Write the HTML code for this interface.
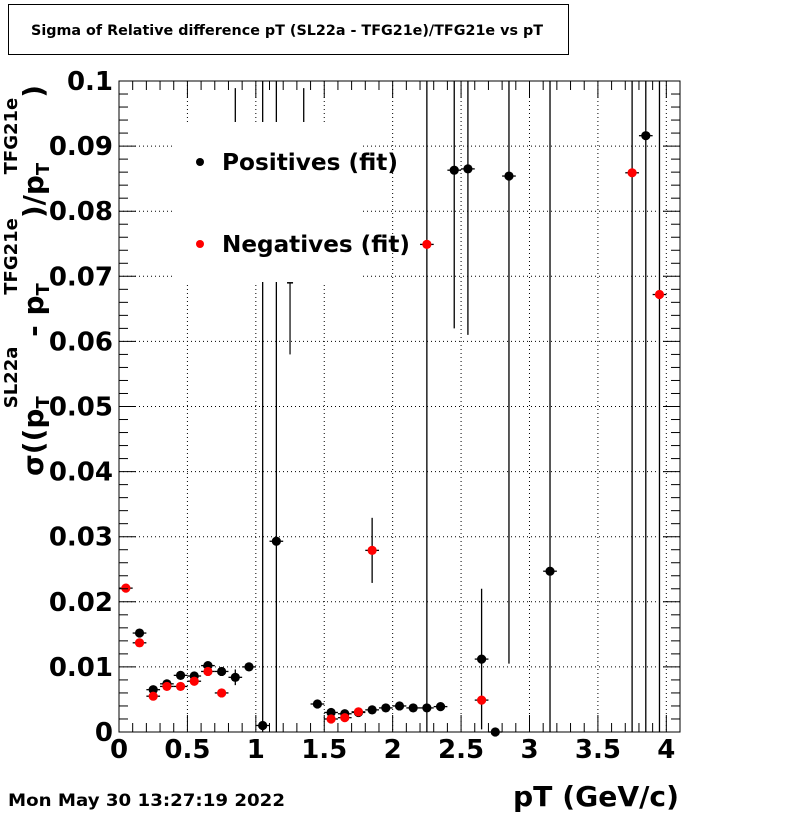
<!DOCTYPE html>
<html><head><meta charset="utf-8"><style>
html,body{margin:0;padding:0;background:#fff;}
svg{display:block;font-family:"DejaVu Sans","Liberation Sans",sans-serif;font-weight:bold;}
</style></head><body>
<svg id="c" width="800" height="814" xmlns="http://www.w3.org/2000/svg">
<rect x="0" y="0" width="800" height="814" fill="#fff"/>
<g>
<rect x="8.5" y="4.5" width="560" height="50" fill="#fff" stroke="#000"/>
<text x="287" y="35" font-size="14" text-anchor="middle" textLength="512" lengthAdjust="spacingAndGlyphs">Sigma of Relative difference pT (SL22a - TFG21e)/TFG21e vs pT</text>
</g>
<rect x="119" y="81" width="561" height="651" fill="#fff"/>
<g id="grid"></g>
<g id="marks"></g>
<g>
<rect x="172" y="122" width="188" height="160" fill="#fff"/>
<circle cx="200" cy="162" r="4" fill="#000"/>
<text x="222" y="170" font-size="23" textLength="176" lengthAdjust="spacingAndGlyphs">Positives (fit)</text>
<circle cx="200" cy="244" r="4" fill="#f00"/>
<text x="222" y="252" font-size="23" textLength="188" lengthAdjust="spacingAndGlyphs">Negatives (fit)</text>
</g>
<g id="axes"></g>
<text x="679" y="806" font-size="28" text-anchor="end" textLength="166" lengthAdjust="spacingAndGlyphs">pT (GeV/c)</text>
<text x="8" y="806" font-size="17" textLength="277" lengthAdjust="spacingAndGlyphs">Mon May 30 13:27:19 2022</text>
<text transform="translate(43,476) rotate(-90)" font-size="28">σ((p<tspan font-size="18" dy="6">T</tspan><tspan font-size="18" dx="-12" dy="-32">SL22a</tspan><tspan dy="26"> - p</tspan><tspan font-size="18" dy="6">T</tspan><tspan font-size="18" dx="-12" dy="-32">TFG21e</tspan><tspan dy="26">)/p</tspan><tspan font-size="18" dy="6">T</tspan><tspan font-size="18" dx="-12" dy="-32">TFG21e</tspan><tspan dy="26">)</tspan></text>
</svg>
<script>
const posX=[0.15,0.25,0.35,0.45,0.55,0.65,0.75,0.85,0.95,1.05,1.15,1.35,1.45,1.55,1.65,1.75,1.85,1.95,2.05,2.15,2.25,2.35,2.45,2.55,2.65,2.75,2.85,3.15,3.85];
const posY=[0.0152,0.0065,0.0074,0.0087,0.0086,0.0102,0.0093,0.0084,0.0100,0.0010,0.0293,0.085,0.0043,0.0030,0.0028,0.0030,0.0034,0.0037,0.0040,0.0037,0.0037,0.0039,0.0863,0.0865,0.0112,0.0000,0.0854,0.0247,0.0916];
const posErr=[0.0004,0.0005,0.0004,0.0004,0.0004,0.0005,0.0004,0.0012,0.0003,0.2,0.2,0.0139,0.0003,0.0003,0.0003,0.0003,0.0003,0.0003,0.0003,0.0003,0.0003,0.0003,0.0243,0.0255,0.0108,0.0002,0.0749,0.2,0.2];
const negX=[0.05,0.15,0.25,0.35,0.45,0.55,0.65,0.75,0.85,1.55,1.65,1.75,1.85,2.25,2.65,3.75,3.95];
const negY=[0.0221,0.0137,0.0055,0.0070,0.0070,0.0078,0.0093,0.0060,0.085,0.0020,0.0022,0.0031,0.0279,0.0749,0.0049,0.0859,0.0672];
const negErr=[0.0003,0.0003,0.0003,0.0003,0.0003,0.0003,0.0003,0.0003,0.0139,0.0003,0.0003,0.0003,0.0050,0.2,0.0003,0.2,0.2];
const xTicks=[0,0.5,1,1.5,2,2.5,3,3.5,4];
const xTickLabels=["0","0.5","1","1.5","2","2.5","3","3.5","4"];
const yTicks=[0,0.01,0.02,0.03,0.04,0.05,0.06,0.07,0.08,0.09,0.1];
const yTickLabels=["0","0.01","0.02","0.03","0.04","0.05","0.06","0.07","0.08","0.09","0.1"];
const X0=119,X1=680,Y0=732,Y1=81,XMAX=4.1,YMAX=0.1;
function sx(v){return X0+(X1-X0)*v/XMAX;}
function sy(v){return Y0-(Y0-Y1)*v/YMAX;}
const NS="http://www.w3.org/2000/svg";
function mk(parent,tag,attrs){const e=document.createElementNS(NS,tag);for(const k in attrs)e.setAttribute(k,attrs[k]);parent.appendChild(e);return e;}
const grid=document.getElementById('grid'),marks=document.getElementById('marks'),axes=document.getElementById('axes');
xTicks.forEach((t,i)=>{if(t===0)return;const l=mk(grid,'line',{x1:sx(t),x2:sx(t),y1:Y1,y2:Y0,stroke:'#000','stroke-dasharray':'1,3'});

});
yTicks.forEach((t,i)=>{if(t===0||t===0.1)return;const l=mk(grid,'line',{x1:X0,x2:X1,y1:sy(t),y2:sy(t),stroke:'#000','stroke-dasharray':'1,3'});

});
function series(xs,ys,es,color,name){
 xs.forEach((x,i)=>{const cx=sx(x),cy=sy(ys[i]);
  const top=Math.max(Y1,sy(ys[i]+es[i])),bot=Math.min(Y0,sy(ys[i]-es[i]));
  const g=mk(marks,'g',{});
  
  
  mk(g,'line',{x1:cx,x2:cx,y1:top,y2:bot,stroke:'#000','stroke-width':1.3});
  mk(g,'line',{x1:sx(x-0.05),x2:sx(x+0.05),y1:cy,y2:cy,stroke:'#000','stroke-width':1.3});
  mk(g,'circle',{cx:cx,cy:cy,r:4.6,fill:color});
 });
}
series(posX,posY,posErr,'#000','positives');
series(negX,negY,negErr,'#f00','negatives');
const ex=mk(marks,'g',{});


mk(ex,'line',{x1:sx(1.25),x2:sx(1.25),y1:sy(0.069),y2:sy(0.058),stroke:'#000','stroke-width':1.2});
mk(ex,'line',{x1:sx(1.25)-3,x2:sx(1.25)+3,y1:sy(0.069),y2:sy(0.069),stroke:'#000','stroke-width':1.5});
const fr=mk(axes,'rect',{x:X0,y:Y1,width:X1-X0,height:Y0-Y1,fill:'none',stroke:'#000','stroke-width':1});


for(let k=0;k<=41;k++){const v=k*0.1,x=sx(v);const major=(k%5===0);const L=major?17:9;
 mk(axes,'line',{x1:x,x2:x,y1:Y0,y2:Y0-L,stroke:'#000'});mk(axes,'line',{x1:x,x2:x,y1:Y1,y2:Y1+L,stroke:'#000'});}
for(let k=0;k<=50;k++){const v=k*0.002,y=sy(v);const major=(k%5===0);const L=major?17:9;
 mk(axes,'line',{x1:X0,x2:X0+L,y1:y,y2:y,stroke:'#000'});mk(axes,'line',{x1:X1,x2:X1-L,y1:y,y2:y,stroke:'#000'});}
xTicks.forEach((t,i)=>{const tx=mk(axes,'text',{x:sx(t),y:758,'font-size':26,'text-anchor':'middle'});tx.textContent=xTickLabels[i];

});
yTicks.forEach((t,i)=>{const tx=mk(axes,'text',{x:113,y:sy(t)+9,'font-size':26,'text-anchor':'end'});tx.textContent=yTickLabels[i];

});
</script>
</body></html>
